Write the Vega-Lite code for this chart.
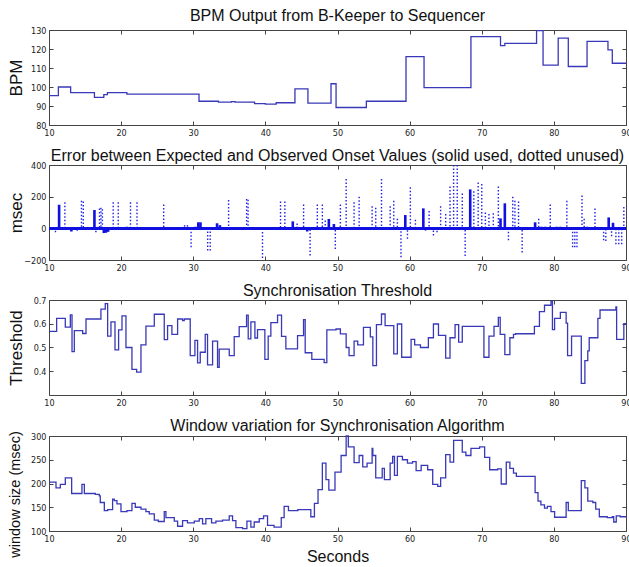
{
  "$schema": "https://vega.github.io/schema/vega-lite/v6.json",
  "padding": {"left": 6, "top": 7, "right": 3, "bottom": 0},
  "spacing": 9,
  "background": "white",
  "datasets": {
    "bpm": [
      {"t":10,"v":95.5},{"t":11.3,"v":100},{"t":13,"v":97},{"t":16.3,"v":94.5},{"t":17.6,"v":96},{"t":18.1,"v":97},{"t":20.8,"v":96.2},{"t":30.8,"v":92.5},{"t":33.5,"v":92},{"t":35.3,"v":92.3},{"t":35.8,"v":92},{"t":38.5,"v":91.3},{"t":40,"v":91},{"t":41.5,"v":91.7},{"t":44.1,"v":99},{"t":45.9,"v":91.5},{"t":49.1,"v":101.7},{"t":49.8,"v":89.2},{"t":54,"v":92.5},{"t":59.5,"v":116},{"t":62,"v":99.7},{"t":68.5,"v":126.5},{"t":72.6,"v":121.8},{"t":73.2,"v":123},{"t":77.6,"v":129.7},{"t":78.5,"v":111.5},{"t":80.6,"v":125.7},{"t":82,"v":110.8},{"t":84.6,"v":124},{"t":87.5,"v":119.5},{"t":88.1,"v":112.5},{"t":90,"v":112.5}
    ],
    "used": [
      {"t":11.4,"v":149},{"t":13.1,"v":-20},{"t":16.3,"v":116},{"t":17.6,"v":-30},{"t":17.9,"v":-28},{"t":18.2,"v":-22},{"t":20.8,"v":10},{"t":24.8,"v":5},{"t":25.2,"v":5},{"t":27.8,"v":-5},{"t":30.3,"v":10},{"t":30.7,"v":38},{"t":31.0,"v":38},{"t":31.5,"v":5},{"t":33.3,"v":32},{"t":33.7,"v":20},{"t":35.9,"v":8},{"t":36.6,"v":5},{"t":38.7,"v":5},{"t":39.2,"v":5},{"t":43.8,"v":44},{"t":44.4,"v":10},{"t":45.8,"v":-20},{"t":48.8,"v":59},{"t":49.5,"v":27},{"t":59.4,"v":84},{"t":61.9,"v":126},{"t":68.4,"v":246},{"t":72.6,"v":63},{"t":73.2,"v":158},{"t":77.4,"v":38},{"t":78.3,"v":10},{"t":78.8,"v":10},{"t":80.4,"v":10},{"t":80.9,"v":10},{"t":84.6,"v":10},{"t":87.6,"v":69},{"t":88.2,"v":35},{"t":88.8,"v":-5},{"t":89.3,"v":-5}
    ],
    "unused": [
      {"t":10.9,"v":-25},{"t":12.2,"v":164},{"t":13.9,"v":-15},{"t":14.5,"v":175},{"t":14.75,"v":170},{"t":16.5,"v":-25},{"t":17.0,"v":125},{"t":17.2,"v":130},{"t":17.4,"v":120},{"t":18.9,"v":165},{"t":19.6,"v":165},{"t":21.3,"v":165},{"t":22.2,"v":165},{"t":22.7,"v":-10},{"t":25.9,"v":150},{"t":28.8,"v":20},{"t":29.2,"v":20},{"t":29.7,"v":-120},{"t":32.0,"v":-140},{"t":32.35,"v":-140},{"t":34.9,"v":179},{"t":37.4,"v":185},{"t":37.6,"v":180},{"t":39.6,"v":-187},{"t":42.1,"v":170},{"t":42.7,"v":170},{"t":44.4,"v":30},{"t":45.3,"v":150},{"t":46.2,"v":-172},{"t":47.2,"v":150},{"t":47.9,"v":150},{"t":48.3,"v":50},{"t":49.7,"v":-130},{"t":50.4,"v":150},{"t":51.2,"v":311},{"t":52.3,"v":165},{"t":53.0,"v":200},{"t":54.8,"v":140},{"t":55.3,"v":130},{"t":56.1,"v":311},{"t":57.3,"v":140},{"t":57.8,"v":175},{"t":58.3,"v":60},{"t":58.8,"v":-183},{"t":59.7,"v":-65},{"t":60.1,"v":259},{"t":60.8,"v":55},{"t":62.2,"v":-15},{"t":62.7,"v":110},{"t":63.3,"v":-45},{"t":63.8,"v":-25},{"t":64.3,"v":140},{"t":65.0,"v":90},{"t":65.6,"v":265},{"t":66.1,"v":400},{"t":66.6,"v":400},{"t":67.3,"v":220},{"t":67.7,"v":-175},{"t":68.9,"v":235},{"t":69.5,"v":290},{"t":70.0,"v":280},{"t":70.5,"v":100},{"t":71.0,"v":90},{"t":71.6,"v":95},{"t":72.3,"v":265},{"t":73.7,"v":-75},{"t":74.3,"v":200},{"t":74.6,"v":175},{"t":75.1,"v":170},{"t":75.6,"v":-152},{"t":77.9,"v":60},{"t":79.5,"v":150},{"t":81.8,"v":175},{"t":82.6,"v":-120},{"t":82.9,"v":-120},{"t":83.2,"v":-120},{"t":83.9,"v":208},{"t":84.2,"v":60},{"t":85.7,"v":125},{"t":86.9,"v":-75},{"t":87.2,"v":-80},{"t":88.0,"v":-50},{"t":88.6,"v":-100},{"t":89.0,"v":-100},{"t":89.4,"v":-100},{"t":89.7,"v":135}
    ],
    "thr": [
      {"t":10,"v":0.568},{"t":11.06,"v":0.623},{"t":12.26,"v":0.586},{"t":12.96,"v":0.637},{"t":13.19,"v":0.483},{"t":13.51,"v":0.571},{"t":14.67,"v":0.559},{"t":15.13,"v":0.62},{"t":17.2,"v":0.662},{"t":17.8,"v":0.685},{"t":18.13,"v":0.548},{"t":18.59,"v":0.608},{"t":19.15,"v":0.49},{"t":19.65,"v":0.574},{"t":20.12,"v":0.633},{"t":20.67,"v":0.5},{"t":21.5,"v":0.408},{"t":22.15,"v":0.396},{"t":22.75,"v":0.511},{"t":23.44,"v":0.59},{"t":24.6,"v":0.64},{"t":25.98,"v":0.533},{"t":26.44,"v":0.592},{"t":27.04,"v":0.555},{"t":27.83,"v":0.62},{"t":28.52,"v":0.613},{"t":28.75,"v":0.62},{"t":29.58,"v":0.466},{"t":30.23,"v":0.53},{"t":30.6,"v":0.435},{"t":30.97,"v":0.48},{"t":31.66,"v":0.555},{"t":31.98,"v":0.427},{"t":32.68,"v":0.527},{"t":33.37,"v":0.416},{"t":33.6,"v":0.493},{"t":34.99,"v":0.466},{"t":35.68,"v":0.546},{"t":36.37,"v":0.588},{"t":37.39,"v":0.636},{"t":37.62,"v":0.536},{"t":37.99,"v":0.608},{"t":38.55,"v":0.54},{"t":38.91,"v":0.575},{"t":39.93,"v":0.45},{"t":40.39,"v":0.548},{"t":40.76,"v":0.605},{"t":41.69,"v":0.636},{"t":42.24,"v":0.547},{"t":42.84,"v":0.494},{"t":44.46,"v":0.55},{"t":45.29,"v":0.617},{"t":45.52,"v":0.478},{"t":46.44,"v":0.45},{"t":48.15,"v":0.436},{"t":48.52,"v":0.574},{"t":49.8,"v":0.578},{"t":50.4,"v":0.557},{"t":51.2,"v":0.5},{"t":51.6,"v":0.466},{"t":52.3,"v":0.527},{"t":52.8,"v":0.511},{"t":53.6,"v":0.585},{"t":54.55,"v":0.545},{"t":54.9,"v":0.424},{"t":55.4,"v":0.596},{"t":56.1,"v":0.641},{"t":56.6,"v":0.592},{"t":57.8,"v":0.473},{"t":58.3,"v":0.599},{"t":58.9,"v":0.459},{"t":60.2,"v":0.534},{"t":60.7,"v":0.511},{"t":61.5,"v":0.5},{"t":62.6,"v":0.541},{"t":63.3,"v":0.599},{"t":64.0,"v":0.551},{"t":65.0,"v":0.455},{"t":65.6,"v":0.541},{"t":66.3,"v":0.596},{"t":66.8,"v":0.523},{"t":67.3,"v":0.589},{"t":70.3,"v":0.459},{"t":71.0,"v":0.548},{"t":71.7,"v":0.589},{"t":72.3,"v":0.627},{"t":72.56,"v":0.555},{"t":73.2,"v":0.47},{"t":73.9,"v":0.541},{"t":74.4,"v":0.555},{"t":74.7,"v":0.558},{"t":77.3,"v":0.589},{"t":78.0,"v":0.651},{"t":78.7,"v":0.678},{"t":79.6,"v":0.695},{"t":79.8,"v":0.575},{"t":80.1,"v":0.623},{"t":80.9,"v":0.648},{"t":81.7,"v":0.603},{"t":81.9,"v":0.466},{"t":82.45,"v":0.548},{"t":83.8,"v":0.349},{"t":84.3,"v":0.445},{"t":84.7,"v":0.486},{"t":84.9,"v":0.541},{"t":86.1,"v":0.623},{"t":86.4,"v":0.658},{"t":88.6,"v":0.671},{"t":88.7,"v":0.534},{"t":89.7,"v":0.6},{"t":90,"v":0.6}
    ],
    "win": [
      {"t":10,"v":203},{"t":10.97,"v":191},{"t":11.57,"v":198},{"t":12.26,"v":212},{"t":13.14,"v":179},{"t":14.57,"v":198},{"t":14.9,"v":179},{"t":16.42,"v":177},{"t":16.97,"v":174},{"t":17.11,"v":160},{"t":17.67,"v":143},{"t":18.13,"v":145},{"t":18.82,"v":167},{"t":19.05,"v":164},{"t":19.42,"v":157},{"t":19.98,"v":141},{"t":20.81,"v":143},{"t":21.5,"v":158},{"t":21.96,"v":150},{"t":22.75,"v":146},{"t":23.44,"v":141},{"t":23.9,"v":136},{"t":24.6,"v":123},{"t":25.15,"v":120},{"t":25.98,"v":141},{"t":26.21,"v":128},{"t":27.37,"v":121},{"t":27.83,"v":110},{"t":28.52,"v":122},{"t":29.2,"v":117},{"t":30.14,"v":121},{"t":30.83,"v":126},{"t":31.29,"v":115},{"t":31.75,"v":126},{"t":32.54,"v":117},{"t":33.14,"v":121},{"t":34.06,"v":123},{"t":34.99,"v":132},{"t":35.45,"v":122},{"t":35.91,"v":107},{"t":36.84,"v":105},{"t":37.44,"v":121},{"t":37.99,"v":108},{"t":38.45,"v":119},{"t":39.15,"v":126},{"t":39.75,"v":132},{"t":40.3,"v":112},{"t":41.2,"v":108},{"t":42.2,"v":128},{"t":42.6,"v":152},{"t":43.2,"v":143},{"t":44.5,"v":145},{"t":46.3,"v":130},{"t":46.8,"v":158},{"t":47.3,"v":187},{"t":47.9,"v":243},{"t":48.4,"v":208},{"t":48.8,"v":186},{"t":49.65,"v":224},{"t":50.5,"v":259},{"t":51.2,"v":300},{"t":51.5,"v":277},{"t":52.3,"v":244},{"t":53.0,"v":259},{"t":53.5,"v":235},{"t":54.1,"v":243},{"t":54.8,"v":274},{"t":54.9,"v":259},{"t":55.3,"v":212},{"t":56.2,"v":232},{"t":56.5,"v":208},{"t":57.3,"v":243},{"t":57.65,"v":257},{"t":57.9,"v":217},{"t":58.3,"v":257},{"t":59.0,"v":250},{"t":59.7,"v":243},{"t":60.4,"v":246},{"t":60.9,"v":227},{"t":61.6,"v":238},{"t":62.5,"v":229},{"t":63.2,"v":198},{"t":63.9,"v":194},{"t":64.3,"v":212},{"t":65.0,"v":261},{"t":65.6,"v":245},{"t":66.1,"v":291},{"t":67.3,"v":266},{"t":67.8,"v":259},{"t":68.5,"v":274},{"t":69.7,"v":277},{"t":70.4,"v":255},{"t":71.1,"v":229},{"t":72.2,"v":231},{"t":72.7,"v":199},{"t":73.4,"v":245},{"t":73.9,"v":232},{"t":74.4,"v":222},{"t":74.8,"v":215},{"t":77.4,"v":181},{"t":77.8,"v":163},{"t":78.2,"v":155},{"t":78.7,"v":148},{"t":79.1,"v":152},{"t":79.6,"v":141},{"t":80.1,"v":129},{"t":81.7,"v":160},{"t":82.0,"v":143},{"t":83.8,"v":206},{"t":84.3,"v":191},{"t":84.7,"v":163},{"t":85.4,"v":160},{"t":85.8,"v":146},{"t":86.3,"v":130},{"t":87.4,"v":128},{"t":88.1,"v":130},{"t":88.3,"v":119},{"t":88.65,"v":132},{"t":89.2,"v":130},{"t":90,"v":130}
    ]
  },
  "config": {
    "view": {"stroke": "#444", "strokeWidth": 1},
    "axis": {"domain": false, "grid": false, "tickSize": -4, "tickColor": "#444", "labelFont": "Liberation Sans Narrow, DejaVu Sans Condensed, Liberation Sans", "labelFontSize": 9, "labelColor": "#222", "labelPadding": 7, "labelFlush": false, "labelOverlap": false, "titleFont": "Liberation Sans", "titleFontWeight": "normal", "titleColor": "#111"},
    "title": {"font": "Liberation Sans", "fontSize": 16, "fontWeight": "normal", "color": "#111", "offset": -3}
  },
  "vconcat": [
    {
      "width": 577, "height": 95,
      "title": {"text": "BPM Output from B-Keeper to Sequencer", "offset": 2},
      "data": {"name": "bpm"},
      "layer": [
        {"mark": {"type": "line", "interpolate": "step-after", "color": "#3838b8", "strokeWidth": 1.3},
         "encoding": {
           "x": {"field": "t", "type": "quantitative", "scale": {"domain": [10, 90]}, "axis": {"values": [10,20,30,40,50,60,70,80,90], "title": null}},
           "y": {"field": "v", "type": "quantitative", "scale": {"domain": [80, 130]}, "axis": {"values": [80,90,100,110,120,130], "title": "BPM", "titleFontSize": 17, "titleX": -33, "titleBaseline": "middle"}}
         }},
        {"mark": {"type": "line", "opacity": 0},
         "encoding": {
           "x": {"field": "t", "type": "quantitative", "axis": {"orient": "top", "labels": false, "values": [10,20,30,40,50,60,70,80,90], "title": null}},
           "y": {"field": "v", "type": "quantitative", "axis": {"orient": "right", "labels": false, "values": [80,90,100,110,120,130], "title": null}}
         }}
      ],
      "resolve": {"axis": {"x": "independent", "y": "independent"}}
    },
    {
      "width": 577, "height": 95,
      "title": "Error between Expected and Observed Onset Values (solid used, dotted unused)",
      "layer": [
        {"data": {"name": "unused"},
         "mark": {"type": "rule", "color": "#2020e8", "strokeWidth": 1.4, "strokeDash": [1.5, 2]},
         "encoding": {
           "x": {"field": "t", "type": "quantitative", "scale": {"domain": [10, 90]}, "axis": {"values": [10,20,30,40,50,60,70,80,90], "title": null}},
           "y": {"field": "v", "type": "quantitative", "scale": {"domain": [-200, 400]}, "axis": {"values": [-200,0,200,400], "title": "msec", "titleFontSize": 17, "titleX": -33, "titleBaseline": "middle"}},
           "y2": {"datum": 0}
         }},
        {"data": {"name": "used"},
         "mark": {"type": "rule", "color": "#1010e0", "strokeWidth": 2.6},
         "encoding": {
           "x": {"field": "t", "type": "quantitative", "axis": null},
           "y": {"field": "v", "type": "quantitative", "axis": null},
           "y2": {"datum": 0}
         }},
        {"data": {"name": "used"},
         "mark": {"type": "rule", "color": "#1010e0", "strokeWidth": 2},
         "encoding": {"y": {"datum": 0, "axis": null}}},
        {"data": {"name": "used"},
         "mark": {"type": "point", "opacity": 0},
         "encoding": {
           "x": {"field": "t", "type": "quantitative", "axis": {"orient": "top", "labels": false, "values": [10,20,30,40,50,60,70,80,90], "title": null}},
           "y": {"field": "v", "type": "quantitative", "axis": {"orient": "right", "labels": false, "values": [-200,0,200,400], "title": null}}
         }}
      ],
      "resolve": {"axis": {"x": "independent", "y": "independent"}}
    },
    {
      "width": 577, "height": 95,
      "title": "Synchronisation Threshold",
      "data": {"name": "thr"},
      "layer": [
        {"mark": {"type": "line", "interpolate": "step-after", "color": "#3838b8", "strokeWidth": 1.3},
         "encoding": {
           "x": {"field": "t", "type": "quantitative", "scale": {"domain": [10, 90]}, "axis": {"values": [10,20,30,40,50,60,70,80,90], "title": null}},
           "y": {"field": "v", "type": "quantitative", "scale": {"domain": [0.3, 0.7]}, "axis": {"values": [0.4,0.5,0.6,0.7], "format": ".1f", "title": "Threshold", "titleFontSize": 17, "titleX": -33, "titleBaseline": "middle"}}
         }},
        {"mark": {"type": "line", "opacity": 0},
         "encoding": {
           "x": {"field": "t", "type": "quantitative", "axis": {"orient": "top", "labels": false, "values": [10,20,30,40,50,60,70,80,90], "title": null}},
           "y": {"field": "v", "type": "quantitative", "axis": {"orient": "right", "labels": false, "values": [0.4,0.5,0.6,0.7], "title": null}}
         }}
      ],
      "resolve": {"axis": {"x": "independent", "y": "independent"}}
    },
    {
      "width": 577, "height": 95,
      "title": "Window variation for Synchronisation Algorithm",
      "data": {"name": "win"},
      "layer": [
        {"mark": {"type": "line", "interpolate": "step-after", "color": "#3838b8", "strokeWidth": 1.3},
         "encoding": {
           "x": {"field": "t", "type": "quantitative", "scale": {"domain": [10, 90]}, "axis": {"values": [10,20,30,40,50,60,70,80,90], "title": "Seconds", "titleFontSize": 16, "titlePadding": 5}},
           "y": {"field": "v", "type": "quantitative", "scale": {"domain": [100, 300]}, "axis": {"values": [100,150,200,250,300], "title": "window size (msec)", "titleFontSize": 14.5, "titleX": -34, "titleY": 58, "titleBaseline": "middle"}}
         }},
        {"mark": {"type": "line", "opacity": 0},
         "encoding": {
           "x": {"field": "t", "type": "quantitative", "axis": {"orient": "top", "labels": false, "values": [10,20,30,40,50,60,70,80,90], "title": null}},
           "y": {"field": "v", "type": "quantitative", "axis": {"orient": "right", "labels": false, "values": [100,150,200,250,300], "title": null}}
         }}
      ],
      "resolve": {"axis": {"x": "independent", "y": "independent"}}
    }
  ]
}
